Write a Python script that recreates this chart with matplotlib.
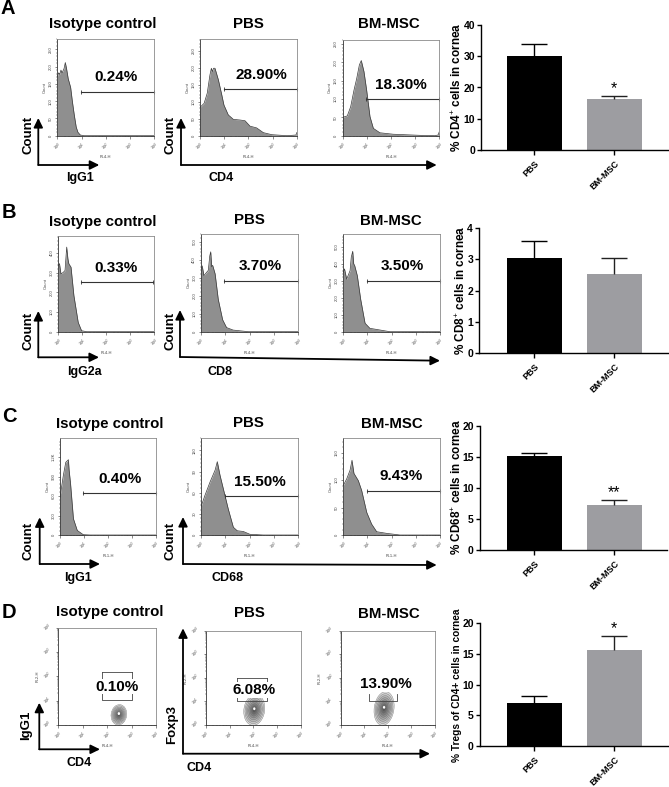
import numpy as np
import matplotlib
matplotlib.use("Agg")
import matplotlib.pyplot as plt
from matplotlib.patches import Ellipse
from matplotlib.ticker import MultipleLocator

plt.rcParams["font.family"] = ["Liberation Sans", "DejaVu Sans"]
plt.rcParams["mathtext.fontset"] = "custom"
plt.rcParams["mathtext.rm"] = "Liberation Sans"
plt.rcParams["mathtext.bf"] = "Liberation Sans:bold"

W, H = 669, 787

# -------------------------------------------------
# Histograms: x in decades (10^0..10^4), y in counts
# -------------------------------------------------
a_iso_x = [0, .05, .1, .15, .2, .28, .33, .38, .45, .55, .62, .7, .78, .85, .95, 1.1, 4]
a_iso_y = [170, 182, 178, 190, 182, 195, 212, 195, 165, 140, 100, 60, 25, 10, 2, 0, 0]
a_pbs_x = [0, .17, .3, .41, .47, .51, .56, .62, .76, .9, .99, 1.17, 1.38, 1.66, 1.86, 2.07, 2.34, 2.62, 2.97, 3.6, 3.97, 4]
a_pbs_y = [83, 95, 125, 178, 198, 188, 198, 198, 164, 120, 90, 61, 48, 46, 44, 28, 23, 9, 3, 0, 2, 9]
a_bm_x = [0, .19, .33, .47, .58, .69, .77, .88, .99, 1.13, 1.27, 1.54, 2.09, 3.2, 3.82, 3.95, 4]
a_bm_y = [50, 54, 79, 125, 156, 193, 205, 175, 125, 52, 20, 8, 4, 1, 0, 2, 11]

b_iso_x = [0, .05, .11, .2, .28, .35, .4, .44, .53, .65, .83, .97, 1.18, 4]
b_iso_y = [335, 345, 293, 300, 310, 429, 370, 344, 327, 183, 47, 5, 0, 0]
b_pbs_x = [0, .05, .12, .3, .36, .4, .44, .48, .58, .71, .89, 1.05, 1.32, 1.95, 4]
b_pbs_y = [350, 365, 311, 340, 420, 443, 360, 368, 321, 179, 66, 23, 9, 0, 0]
b_bm_x = [0, .05, .14, .28, .33, .39, .43, .47, .58, .72, .9, 1.1, 1.93, 4]
b_bm_y = [350, 370, 310, 360, 440, 474, 400, 390, 330, 190, 50, 20, 0, 0]

c_iso_x = [0, .14, .24, .35, .38, .44, .56, .72, .97, 1.25, 4]
c_iso_y = [580, 920, 1120, 1160, 1000, 790, 250, 70, 5, 0, 0]
c_pbs_x = [0, .16, .37, .58, .67, .78, .95, 1.12, 1.33, 1.49, 1.74, 2.01, 2.56, 4]
c_pbs_y = [40, 56, 75, 92, 104, 85, 61, 37, 11, 6, 5, 1, 0, 0]
c_bm_x = [0, .14, .28, .36, .44, .62, .76, .97, 1.17, 1.38, 1.79, 2.34, 4]
c_bm_y = [90, 102, 118, 136, 112, 99, 81, 41, 20, 6, 3, 0, 0]

hist_x = [a_iso_x, a_pbs_x, a_bm_x, b_iso_x, b_pbs_x, b_bm_x, c_iso_x, c_pbs_x, c_bm_x]
hist_y = [a_iso_y, a_pbs_y, a_bm_y, b_iso_y, b_pbs_y, b_bm_y, c_iso_y, c_pbs_y, c_bm_y]

hist_top = [281, 283, 261, 485, 540, 574, 1490, 138, 177]
hist_ticks = [
    [0, 50, 100, 150, 200, 250], [0, 50, 100, 150, 200, 250], [0, 50, 100, 150, 200, 250],
    [0, 100, 200, 300, 400], [0, 100, 200, 300, 400, 500], [0, 100, 200, 300, 400, 500],
    [0, 300, 600, 900, 1200], [0, 30, 60, 90, 120], [0, 50, 100, 150],
]
hist_xlabel = ["FL4-H"] * 6 + ["FL1-H"] * 3

# gate start, gate end (decades), gate level (counts)
gate_start = [.96, 1.0, .95, .93, .96, .97, .97, .99, .97]
gate_end = [4, 4, 4, 3.96, 3.97, 4, 4, 4, 4]
gate_level = [126, 137, 100, 253, 279, 300, 644, 55, 80]

# -------------------------------------------------
# Contour panels (D)
# -------------------------------------------------
blob_x = [2.48, 2.04, 1.84]
blob_y = [0.42, 0.64, 0.7]
blob_w = [0.32, 0.44, 0.42]
blob_h = [0.42, 0.66, 0.72]
contour_levels = [1, .88, .76, .64, .52, .4, .28, .16]
box_x0 = [1.78, 1.3, 1.22]
box_x1 = [3.03, 2.56, 2.4]
box_y0 = [1.03, 1.02, 1.02]
box_y1 = [2.19, 1.98, 1.3]

# -------------------------------------------------
# Text
# -------------------------------------------------
percent_labels = ["0.24%", "28.90%", "18.30%", "0.33%", "3.70%", "3.50%",
                  "0.40%", "15.50%", "9.43%", "0.10%", "6.08%", "13.90%"]
column_titles = ["Isotype control", "PBS", "BM-MSC"]
row_letters = ["A", "B", "C", "D"]
decade_labels = ["$10^{0}$", "$10^{1}$", "$10^{2}$", "$10^{3}$", "$10^{4}$"]

# -------------------------------------------------
# Bar charts
# -------------------------------------------------
bar_names = ["PBS", "BM-MSC"]
a_means, a_errs = [30.0, 16.3], [3.9, 0.9]
b_means, b_errs = [3.05, 2.55], [0.55, 0.5]
c_means, c_errs = [15.2, 7.2], [0.5, 0.8]
d_means, d_errs = [7.0, 15.7], [1.1, 2.2]
bar_means = [a_means, b_means, c_means, d_means]
bar_errs = [a_errs, b_errs, c_errs, d_errs]
bar_tops = [40, 4, 20, 20]
bar_steps = [10, 1, 5, 5]
bar_ylabels = ["% CD4$^{+}$ cells in cornea", "% CD8$^{+}$ cells in cornea",
               "% CD68$^{+}$ cells in cornea", "% Tregs of CD4+ cells in cornea"]
bar_marks = ["*", "", "**", "*"]

# -------------------------------------------------
# Layout, in image pixels
# -------------------------------------------------
hist_boxes = [
    (57.3, 38.7, 154.3, 135.7), (200, 39.3, 296.7, 135.7), (342.7, 40, 439.3, 135.7),
    (58.3, 236, 154.3, 331.7), (201, 234.3, 298.3, 331.7), (343.3, 234.3, 440, 331.7),
    (60, 438.3, 156, 535), (201, 437.7, 298.3, 535), (343.3, 437.7, 440, 535),
]
contour_boxes = [(58.3, 627.7, 156, 725), (206, 630.7, 300.7, 725), (340.7, 630.7, 435, 725)]
bar_boxes = [(481.3, 25.3, 668, 149.7), (479.3, 228.3, 668, 353),
             (480, 426, 667, 550), (480, 623, 669, 746.3)]
bar_label_xy = [(456.7, 87), (461, 290), (456.7, 487), (456.7, 685)]
bar_label_size = [8.5, 8.5, 8.5, 7.3]
percent_xy = [(116, 77), (261, 75), (401, 85), (116, 268), (260, 266), (402, 266),
              (120, 479), (260, 482), (401, 476), (117, 686.7), (254, 690), (386, 684)]
title_xy = [(103, 24), (248, 24), (389, 24), (103, 222), (249, 220), (391, 221),
            (110, 424), (248, 423), (392, 424), (110, 612), (249, 613), (389, 614)]
letter_xy = [(8, 9), (9, 212), (9, 417), (9, 613)]
# (x, y of corner, top of vertical, end of horizontal, y at end of horizontal)
arrow_sets = [(38.3, 165, 118, 99.3, 165), (181, 165, 118, 436.7, 165),
              (38.3, 357.3, 311, 99, 357.3), (180, 357, 310, 440, 360.7),
              (39.7, 564, 517.3, 100, 564), (183, 564, 517, 436.7, 565),
              (39.3, 749.3, 702.7, 100, 749.3), (183, 753.7, 628.3, 430, 753.7)]
side_labels = [("Count", 28, 135), ("Count", 171, 135), ("Count", 28, 331), ("Count", 170, 331),
               ("Count", 28, 541), ("Count", 171, 541), ("IgG1", 26, 725), ("Foxp3", 172, 725)]
under_labels = [("IgG1", 80, 178), ("CD4", 221, 178), ("IgG2a", 84, 372), ("CD8", 220, 372),
                ("IgG1", 78, 578), ("CD68", 227, 578), ("CD4", 79, 763), ("CD4", 199, 768)]

fig = plt.figure(figsize=(W / 100, H / 100), dpi=100, facecolor="white")


def px_axes(box):
    l, t, r, b = box
    return fig.add_axes([l / W, 1 - b / H, (r - l) / W, (b - t) / H])


def style_flow(ax, xlabel, ylabel):
    for side in ["top", "right"]:
        ax.spines[side].set_color("#8a8a8a")
        ax.spines[side].set_linewidth(0.6)
    for side in ["left", "bottom"]:
        ax.spines[side].set_color("#333333")
        ax.spines[side].set_linewidth(0.6)
    ax.set_xlim(0, 4)
    ax.set_xticks(range(5))
    ax.set_xticklabels(decade_labels, fontsize=3, rotation=35, color="#444444")
    minor = [k + np.log10(m) for k in range(4) for m in range(2, 10)]
    ax.set_xticks(minor, minor=True)
    ax.tick_params(axis="both", which="major", length=1.8, width=0.4, pad=1.5, color="#333333")
    ax.tick_params(axis="both", which="minor", length=0.9, width=0.3, color="#333333")
    ax.set_xlabel(xlabel, fontsize=3, color="#444444", labelpad=1.5)
    ax.set_ylabel(ylabel, fontsize=3, color="#444444", labelpad=1.5)


# histograms
for i, box in enumerate(hist_boxes):
    ax = px_axes(box)
    ax.fill_between(hist_x[i], hist_y[i], 0, color="#8f8f8f", lw=0)
    ax.plot(hist_x[i], hist_y[i], color="#3a3a3a", lw=0.5)
    style_flow(ax, hist_xlabel[i], "Count")
    ax.set_ylim(0, hist_top[i])
    ticks = hist_ticks[i]
    ax.set_yticks(ticks)
    names = ["1.2K" if t == 1200 else str(t) for t in ticks]
    ax.set_yticklabels(names, fontsize=3, rotation=90, va="center", color="#444444")
    ax.yaxis.set_minor_locator(MultipleLocator((ticks[1] - ticks[0]) / 5))
    ax.plot([gate_start[i], gate_end[i]], [gate_level[i]] * 2, color="#333333", lw=0.8,
            marker="|", ms=2.5, mew=0.6, clip_on=False)

# contour plots
for i, box in enumerate(contour_boxes):
    ax = px_axes(box)
    for level in contour_levels:
        shade = 0.6 * level + 0.25
        ax.add_patch(Ellipse((blob_x[i], blob_y[i]), 2 * blob_w[i] * level, 2 * blob_h[i] * level,
                             angle=-8, facecolor=str(shade), edgecolor="#6a6a6a", lw=0.25))
    ax.add_patch(Ellipse((blob_x[i], blob_y[i] + 0.05), 0.1, 0.12, facecolor="white", lw=0))
    style_flow(ax, "FL4-H", "FL2-H")
    ax.set_ylim(0, 4)
    ax.set_yticks(range(5))
    ax.set_yticklabels(decade_labels, fontsize=3, rotation=35, va="center", color="#444444")
    ax.set_yticks([k + np.log10(m) for k in range(4) for m in range(2, 10)], minor=True)
    ax.plot([box_x0[i], box_x0[i], box_x1[i], box_x1[i]],
            [box_y1[i], box_y0[i], box_y0[i], box_y1[i]], color="#444444", lw=0.6)
    if i < 2:
        ax.plot([box_x0[i], box_x1[i]], [box_y1[i]] * 2, color="#444444", lw=0.6)

# bar charts
for i, box in enumerate(bar_boxes):
    ax = px_axes(box)
    ax.bar([0, 1], bar_means[i], width=0.6875, color=["#000000", "#9d9da1"])
    for pos, col in [(0, "#000000"), (1, "#222222")]:
        _, caps, _ = ax.errorbar([pos], bar_means[i][pos], yerr=[[0], [bar_errs[i][pos]]],
                                 color=col, capsize=9.5, elinewidth=1, capthick=1)
        caps[0].set_visible(False)  # only the upper cap shows in the figure
    px_per_unit = 80
    ax.set_xlim(-(534.2 - box[0]) / px_per_unit, (box[2] - 534.2) / px_per_unit)
    ax.set_ylim(0, bar_tops[i])
    ax.set_yticks(np.arange(0, bar_tops[i] + bar_steps[i], bar_steps[i]))
    ax.set_xticks([0, 1])
    ax.set_xticklabels(bar_names, rotation=45, ha="right", rotation_mode="anchor",
                       fontsize=6.5, fontweight="bold")
    ax.tick_params(axis="x", length=3.5, width=1, pad=3)
    ax.tick_params(axis="y", length=3, width=1, pad=1.5, labelsize=7.5)
    for t in ax.get_yticklabels():
        t.set_fontweight("bold")
    for side in ["top", "right"]:
        ax.spines[side].set_visible(False)
    for side in ["left", "bottom"]:
        ax.spines[side].set_linewidth(1)
    if bar_marks[i]:
        top = bar_means[i][1] + bar_errs[i][1]
        ax.text(1, top, bar_marks[i], ha="center", va="bottom", fontsize=11.5, clip_on=False)

# everything else goes on an overlay in pixel coordinates
over = fig.add_axes([0, 0, 1, 1])
over.set_xlim(0, W)
over.set_ylim(H, 0)
over.axis("off")

for x0, y0, ytop, xend, yend in arrow_sets:
    for target in [(x0, ytop), (xend, yend)]:
        over.annotate("", xy=target, xytext=(x0, y0),
                      arrowprops=dict(arrowstyle="-|>,head_length=0.55,head_width=0.27",
                                      color="black", lw=1.3, shrinkA=0, shrinkB=0))

for (x, y), name in zip(percent_xy, percent_labels):
    over.text(x, y, name, ha="center", va="center", fontsize=11, fontweight="bold",
              bbox=dict(facecolor="white", edgecolor="none", pad=0.4))

for i, (x, y) in enumerate(title_xy):
    over.text(x, y, column_titles[i % 3], ha="center", va="center", fontsize=10.8, fontweight="bold")

for (x, y), name in zip(letter_xy, row_letters):
    over.text(x, y, name, ha="center", va="center", fontsize=14.5, fontweight="bold")

for name, x, y in side_labels:
    over.text(x, y, name, rotation=90, ha="center", va="center", fontsize=9.5, fontweight="bold")

for name, x, y in under_labels:
    over.text(x, y, name, ha="center", va="center", fontsize=9, fontweight="bold")

for (x, y), name, size in zip(bar_label_xy, bar_ylabels, bar_label_size):
    over.text(x, y, name, rotation=90, ha="center", va="center", fontsize=size, fontweight="bold")

fig.savefig("out.png", dpi=100)
